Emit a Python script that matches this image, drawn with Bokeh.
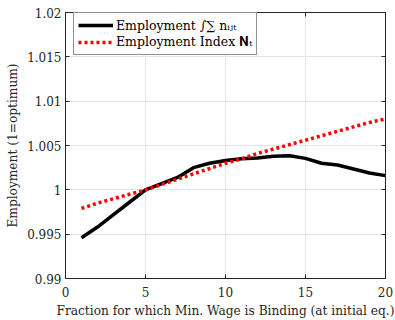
from bokeh.plotting import figure
from bokeh.models import FixedTicker, LinearAxis, Legend, LegendItem, Range1d
from bokeh.embed import file_html
from bokeh.resources import INLINE

# Fraction of workers for whom the minimum wage binds (at initial eq.)
fraction = [1, 2, 3, 4, 5, 6, 7, 8, 9, 10, 11, 12, 13, 14, 15, 16, 17, 18, 19, 20]

# Aggregate employment (1 = optimum)
employment_sum = [0.9946, 0.9958, 0.9972, 0.9986, 1.0000, 1.0007, 1.0014, 1.0025,
                  1.0030, 1.0033, 1.0035, 1.0036, 1.0038, 1.00385, 1.00355, 1.0030,
                  1.0028, 1.00235, 1.0019, 1.0016]

# Employment index N_t (1 = optimum)
employment_index = [0.9979, 0.9985, 0.9990, 0.9995, 1.0000, 1.0006, 1.0012, 1.0018,
                    1.0024, 1.0030, 1.0035, 1.0041, 1.0046, 1.0051, 1.0056, 1.0061,
                    1.0066, 1.0071, 1.0076, 1.0080]

x_ticks = [0, 5, 10, 15, 20]
y_ticks = [0.99, 0.995, 1.0, 1.005, 1.01, 1.015, 1.02]
y_tick_labels = ["0.99", "0.995", "1", "1.005", "1.01", "1.015", "1.02"]

label_sum = "Employment \u222b\u2211 n\u1d62\u2c7c\u209c"
label_index = "Employment Index \U0001D40D\u209c"

FONT = "DejaVu Serif"
INK = "#262626"

p = figure(width=395, height=320, output_backend="svg", toolbar_location=None,
           x_range=Range1d(0, 20), y_range=Range1d(0.99, 1.02),
           min_border_left=65, min_border_right=10, min_border_top=12,
           min_border_bottom=39)
p.background_fill_color = "white"
p.border_fill_color = "white"
p.outline_line_color = INK
p.outline_line_width = 1

r_sum = p.line(fraction, employment_sum, line_color="black", line_width=3.5)
r_idx = p.line(fraction, employment_index, line_color="#ff0000", line_width=3.5,
               line_dash="3 3", line_cap="butt")

overrides = {t: s for t, s in zip(y_ticks, y_tick_labels)}

for ax in (p.xaxis[0], p.yaxis[0]):
    ax.major_tick_in = 4
    ax.major_tick_out = 0
    ax.minor_tick_in = 0
    ax.minor_tick_out = 0
    ax.axis_line_color = INK
    ax.major_tick_line_color = INK
    ax.major_label_text_font = FONT
    ax.major_label_text_font_size = "12px"
    ax.major_label_text_color = INK
    ax.axis_label_text_font = FONT
    ax.axis_label_text_font_size = "12.2px"
    ax.axis_label_text_font_style = "normal"
    ax.axis_label_text_color = INK

p.xaxis[0].ticker = FixedTicker(ticks=x_ticks)
p.yaxis[0].ticker = FixedTicker(ticks=y_ticks)
p.yaxis[0].major_label_overrides = overrides
p.xaxis[0].axis_label = "Fraction for which Min. Wage is Binding (at initial eq.)"
p.yaxis[0].axis_label = "Employment (1=optimum)"
p.xaxis[0].major_label_standoff = 8
p.xaxis[0].axis_label_standoff = 4
p.yaxis[0].major_label_standoff = 4
p.yaxis[0].axis_label_standoff = 4

# Mirrored tick marks on the top and right edges of the box (no labels)
top = LinearAxis(ticker=FixedTicker(ticks=x_ticks), major_label_text_color=None,
                 major_tick_in=4, major_tick_out=0, minor_tick_in=0, minor_tick_out=0,
                 axis_line_color=INK, major_tick_line_color=INK, major_label_standoff=0)
right = LinearAxis(ticker=FixedTicker(ticks=y_ticks), major_label_text_color=None,
                   major_tick_in=4, major_tick_out=0, minor_tick_in=0, minor_tick_out=0,
                   axis_line_color=INK, major_tick_line_color=INK, major_label_standoff=0)
p.add_layout(top, "above")
p.add_layout(right, "right")

p.xgrid.ticker = FixedTicker(ticks=x_ticks)
p.ygrid.ticker = FixedTicker(ticks=y_ticks)
p.grid.grid_line_color = "#e6e6e6"
p.grid.grid_line_width = 1

legend = Legend(items=[LegendItem(label=label_sum, renderers=[r_sum]),
                       LegendItem(label=label_index, renderers=[r_idx])],
                location=(8, 223), margin=0, padding=4, spacing=1,
                glyph_width=35, glyph_height=16, label_height=16,
                label_standoff=3, label_text_font=FONT, label_text_font_size="12.5px",
                label_text_color="black", border_line_color=INK,
                border_line_width=1, background_fill_color="white",
                background_fill_alpha=1)
p.add_layout(legend, "center")

open("out.html", "w").write(file_html(p, INLINE))
